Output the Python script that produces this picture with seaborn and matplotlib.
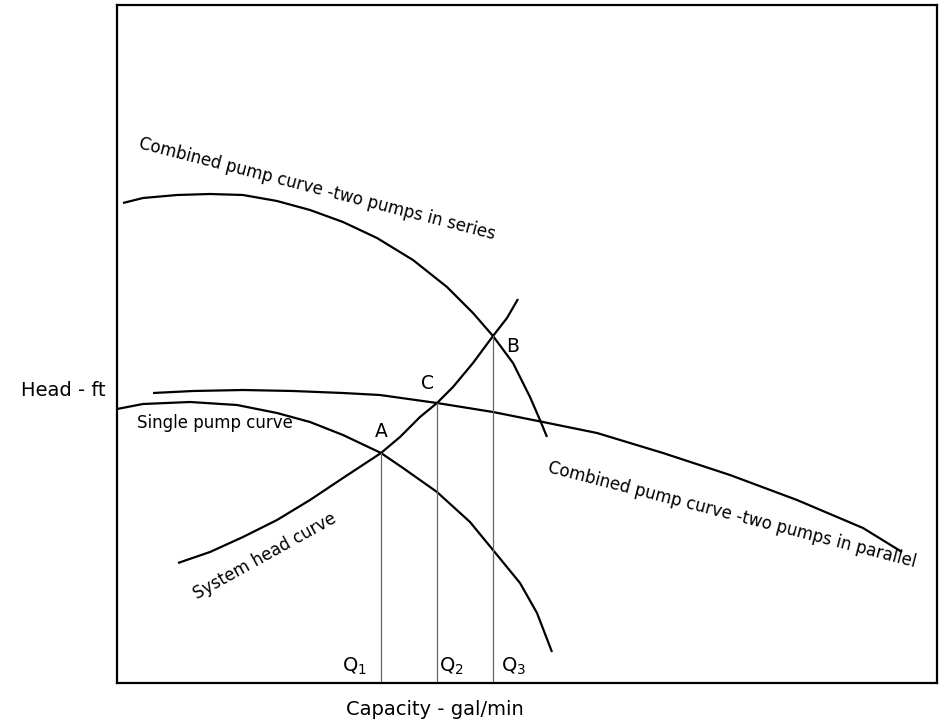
import matplotlib
matplotlib.use("Agg")
import matplotlib.pyplot as plt
import seaborn as sns
import pandas as pd

# ── curve points (x = capacity, y = head, arbitrary units) ──
single_x = [0, 26, 73, 120, 160, 193, 226, 264, 286, 320, 353, 376, 403, 420, 435]
single_y = [274, 279, 281, 278, 270, 261, 248, 230, 215, 191, 161, 133, 100, 70, 31]

system_x = [61, 93, 126, 160, 193, 226, 264, 283, 303, 320, 336, 356, 376, 390, 401]
system_y = [120, 131, 146, 163, 183, 205, 230, 246, 266, 280, 296, 320, 347, 365, 384]

parallel_x = [36, 76, 126, 176, 226, 263, 320, 376, 426, 480, 546, 613, 680, 746, 785]
parallel_y = [290, 292, 293, 292, 290, 288, 280, 271, 261, 250, 230, 208, 183, 155, 131]

series_x = [6, 26, 60, 93, 126, 160, 193, 226, 260, 296, 330, 356, 376, 396, 413, 423, 430]
series_y = [480, 485, 488, 489, 488, 482, 473, 461, 445, 423, 396, 370, 347, 320, 286, 263, 246]

# operating points A, C, B and the flows Q1, Q2, Q3 below them
q_x = [264, 320, 376]
q_top = [230, 280, 347]
q_labels = ["$\\mathregular{Q_1}$", "$\\mathregular{Q_2}$", "$\\mathregular{Q_3}$"]
pt_labels = ["A", "C", "B"]

sns.set_theme(style="white", rc={"text.color": "black"})
plt.rcParams["font.family"] = ["DejaVu Sans"]

fig = plt.figure(figsize=(9.49, 7.27), dpi=100)
ax = fig.add_axes([117 / 949, 44 / 727, 820 / 949, 678 / 727])

for xs, ys in [(single_x, single_y), (system_x, system_y),
               (parallel_x, parallel_y), (series_x, series_y)]:
    df = pd.DataFrame({"x": xs, "y": ys})
    sns.lineplot(data=df, x="x", y="y", sort=False, color="black", linewidth=1.6,
                 solid_joinstyle="round", solid_capstyle="butt", ax=ax)

for qx, qt in zip(q_x, q_top):
    ax.plot([qx, qx], [0, qt], color="#666666", linewidth=0.9)

# Q labels
for qx, lab, dx in zip(q_x, q_labels, [-39, 2, 8]):
    ax.text(qx + dx, 11, lab, fontsize=14, ha="left", va="baseline")

# A / C / B
for qx, qt, lab, dx, dy in zip(q_x, q_top, pt_labels, [-6, -16, 13], [16, 14, -16]):
    ax.text(qx + dx, qt + dy, lab, fontsize=13.5, ha="left", va="baseline")

ax.text(20, 255, "Single pump curve", fontsize=12, ha="left", va="baseline")
ax.text(148, 127, "System head curve", fontsize=12, rotation=29,
        ha="center", va="center", rotation_mode="anchor")
ax.text(200, 494, "Combined pump curve -two pumps in series", fontsize=12,
        rotation=-14.4, ha="center", va="center", rotation_mode="anchor")
ax.text(615, 168, "Combined pump curve -two pumps in parallel", fontsize=12,
        rotation=-14.5, ha="center", va="center", rotation_mode="anchor")

ax.set_xlim(0, 820)
ax.set_ylim(0, 678)
ax.set_xticks([])
ax.set_yticks([])
ax.set_xlabel("Capacity - gal/min", fontsize=14, color="black")
ax.xaxis.set_label_coords((435 - 117) / 820, -(700 - 683) / 678)
ax.set_ylabel("Head - ft", fontsize=14, rotation=0, ha="right", va="center", color="black")
ax.yaxis.set_label_coords((106 - 117) / 820, (683 - 390) / 678)
for s in ax.spines.values():
    s.set_color("black")
    s.set_linewidth(1.6)

fig.savefig("out.png", dpi=100, facecolor="white")
